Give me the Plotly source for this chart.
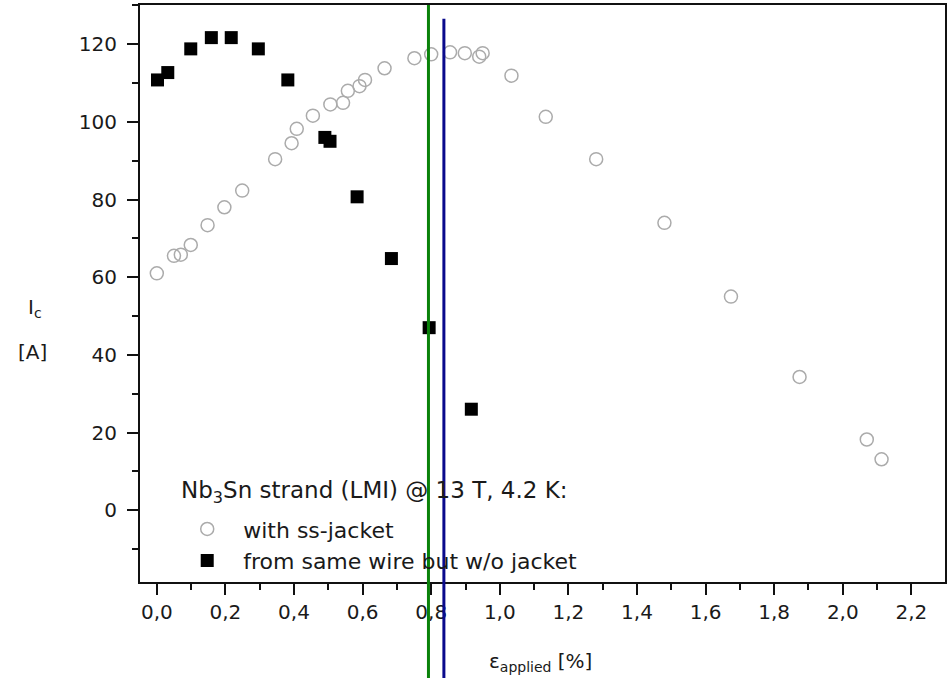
import plotly.graph_objects as go

# with ss-jacket (open circles)
jacket_strain = [0.0, 0.05, 0.07, 0.099, 0.148, 0.197, 0.249, 0.345, 0.393, 0.408, 0.455,
                 0.506, 0.543, 0.557, 0.591, 0.607, 0.664, 0.751, 0.800, 0.855, 0.898,
                 0.940, 0.950, 1.034, 1.134, 1.281, 1.480, 1.674, 1.874, 2.070, 2.113]
jacket_ic = [61.0, 65.5, 65.8, 68.3, 73.4, 78.0, 82.3, 90.4, 94.5, 98.2, 101.6,
             104.5, 104.9, 108.0, 109.2, 110.8, 113.8, 116.4, 117.4, 117.9, 117.7,
             116.8, 117.7, 111.9, 101.3, 90.4, 74.0, 55.0, 34.3, 18.2, 13.1]

# from same wire but w/o jacket (filled squares)
bare_strain = [0.002, 0.032, 0.099, 0.159, 0.217, 0.296, 0.382, 0.49, 0.505, 0.584, 0.684, 0.794, 0.917]
bare_ic = [110.8, 112.7, 118.8, 121.7, 121.7, 118.8, 110.8, 96.0, 95.0, 80.7, 64.8, 47.0, 26.0]

# vertical reference lines (strain, %)
green_line_x = 0.792
blue_line_x = 0.837

x_ticks = [0.0, 0.2, 0.4, 0.6, 0.8, 1.0, 1.2, 1.4, 1.6, 1.8, 2.0, 2.2]
y_ticks = [0, 20, 40, 60, 80, 100, 120]

legend_title = "Nb<sub>3</sub>Sn strand (LMI) @ 13 T, 4.2 K:"

FONT = "DejaVu Sans, sans-serif"
TXT = "#1a1a1a"

fig = go.Figure()
fig.add_trace(go.Scatter(
    x=jacket_strain, y=jacket_ic, mode="markers", name="with ss-jacket",
    marker=dict(symbol="circle-open", size=13, color="#ababab", line=dict(width=1.5, color="#ababab")),
))
fig.add_trace(go.Scatter(
    x=bare_strain, y=bare_ic, mode="markers", name="from same wire but w/o jacket",
    marker=dict(symbol="square", size=13, color="#000000"),
))

fig.add_shape(type="line", xref="x", yref="paper", x0=green_line_x, x1=green_line_x,
              y0=-0.2, y1=1.0, line=dict(color="#0a820a", width=3), layer="above")
fig.add_shape(type="line", xref="x", yref="paper", x0=blue_line_x, x1=blue_line_x,
              y0=-0.2, y1=0.976, line=dict(color="#0a0a8c", width=3), layer="above")

axis_common = dict(
    showline=True, linecolor="#111111", linewidth=2, mirror=True,
    ticks="outside", tickwidth=2, ticklen=11, tickcolor="#111111",
    showgrid=False, zeroline=False,
    tickfont=dict(family=FONT, size=20, color=TXT),
)
fig.update_xaxes(range=[-0.049, 2.298], tickvals=x_ticks, tickformat=".1f",
                 minor=dict(ticks="outside", dtick=0.1, tick0=0, ticklen=6, tickwidth=2, tickcolor="#111111"),
                 **axis_common)
fig.update_yaxes(range=[-18.5, 130.1], tickvals=y_ticks, ticklabelstandoff=6,
                 minor=dict(ticks="outside", dtick=10, tick0=0, ticklen=6, tickwidth=2, tickcolor="#111111"),
                 **axis_common)

fig.add_annotation(xref="paper", yref="paper", x=-0.131, y=0.475, xanchor="center", yanchor="middle",
                   text="I<sub>c</sub>", showarrow=False,
                   font=dict(family=FONT, size=20, color=TXT))
fig.add_annotation(xref="paper", yref="paper", x=-0.133, y=0.398, xanchor="center", yanchor="middle",
                   text="[A]", showarrow=False,
                   font=dict(family=FONT, size=20, color=TXT))
fig.add_annotation(xref="paper", yref="paper", x=0.497, y=-0.138, xanchor="center", yanchor="middle",
                   text="ε<sub>applied</sub> [%]", showarrow=False,
                   font=dict(family=FONT, size=20, color=TXT))
fig.add_annotation(xref="paper", yref="paper", x=0.0485, y=0.156, xanchor="left", yanchor="middle",
                   text=legend_title, showarrow=False,
                   font=dict(family=FONT, size=23, color=TXT))

fig.update_layout(
    width=949, height=678,
    margin=dict(l=140, r=2, t=5, b=96),
    paper_bgcolor="white", plot_bgcolor="white",
    separators=",.",
    showlegend=True,
    legend=dict(
        x=0.045, y=0.128, xanchor="left", yanchor="top",
        bgcolor="rgba(0,0,0,0)", borderwidth=0,
        font=dict(family=FONT, size=22, color=TXT),
        itemwidth=62, indentation=-5, tracegroupgap=0,
    ),
)

fig.write_html("out.html")
